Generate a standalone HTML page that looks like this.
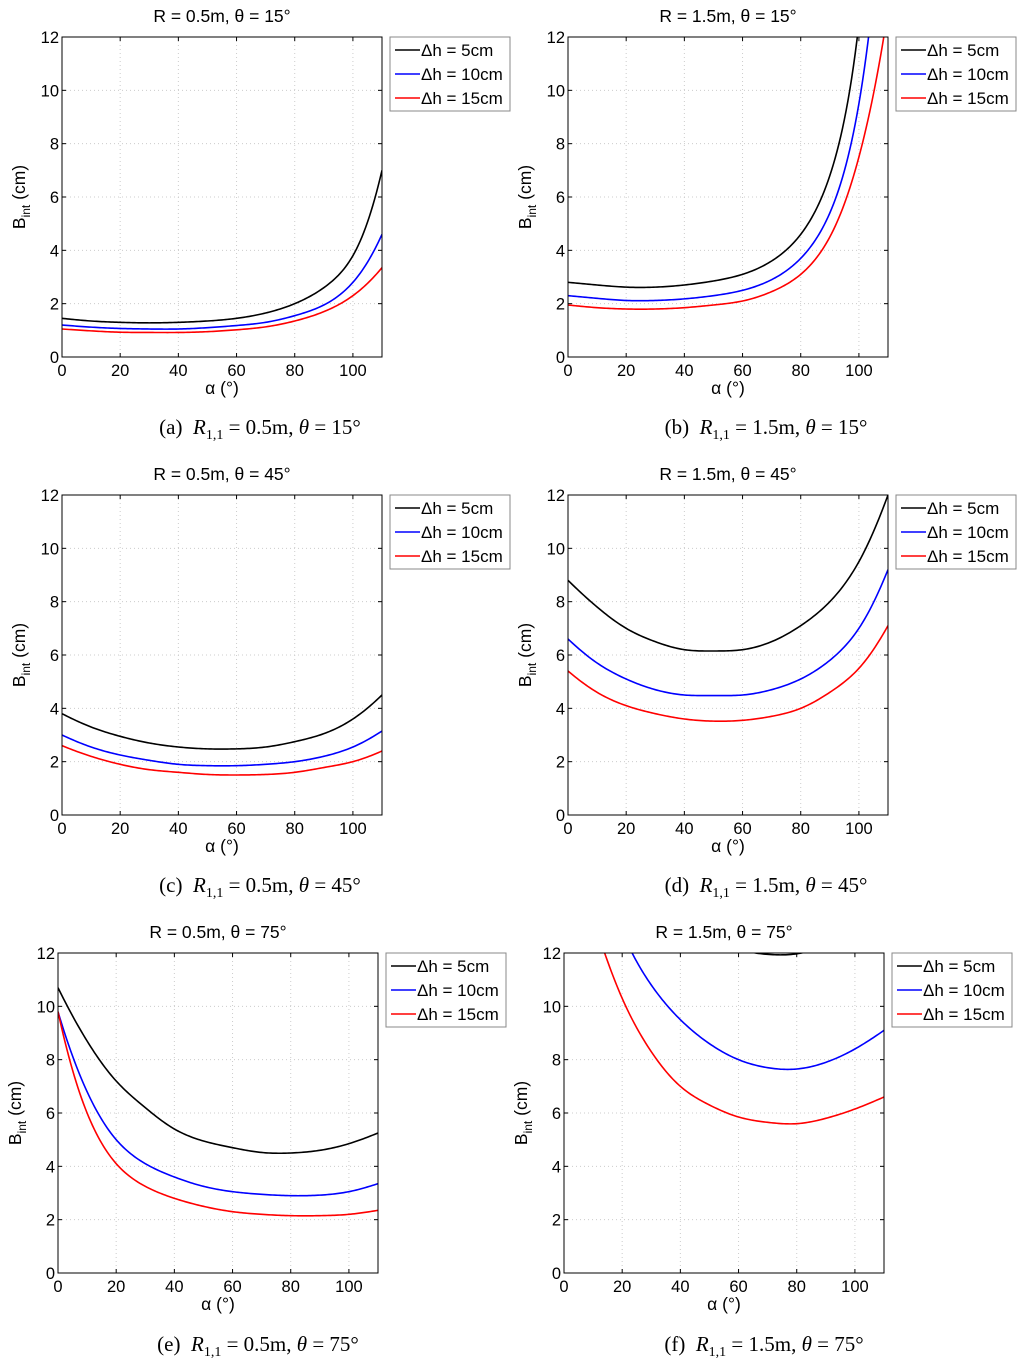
<!DOCTYPE html>
<html><head><meta charset="utf-8"><style>
body{margin:0;background:#fff;width:1024px;height:1367px;overflow:hidden;font-family:"Liberation Sans",sans-serif}
svg{position:absolute;left:0;top:0}
.cap{position:absolute;font-family:"Liberation Serif",serif;font-size:21px;white-space:nowrap;transform:translateX(-50%)}
.cap i{font-style:italic}
</style></head><body>
<svg id="chart" width="1024" height="1367"></svg>
<div class="cap" style="left:260px;top:415px">(a)&nbsp; <i>R</i><sub style="font-size:14px">1,1</sub> = 0.5m, <i>θ</i> = 15°</div>
<div class="cap" style="left:766px;top:415px">(b)&nbsp; <i>R</i><sub style="font-size:14px">1,1</sub> = 1.5m, <i>θ</i> = 15°</div>
<div class="cap" style="left:260px;top:873px">(c)&nbsp; <i>R</i><sub style="font-size:14px">1,1</sub> = 0.5m, <i>θ</i> = 45°</div>
<div class="cap" style="left:766px;top:873px">(d)&nbsp; <i>R</i><sub style="font-size:14px">1,1</sub> = 1.5m, <i>θ</i> = 45°</div>
<div class="cap" style="left:258px;top:1332px">(e)&nbsp; <i>R</i><sub style="font-size:14px">1,1</sub> = 0.5m, <i>θ</i> = 75°</div>
<div class="cap" style="left:764px;top:1332px">(f)&nbsp; <i>R</i><sub style="font-size:14px">1,1</sub> = 1.5m, <i>θ</i> = 75°</div>
<script>
const alphas=[0,10,20,30,40,50,60,70,80,90,100,110];
const xTicks=[0,20,40,60,80,100];
const yTicks=[0,2,4,6,8,10,12];
const seriesLabels=["Δh = 5cm","Δh = 10cm","Δh = 15cm"];
const seriesColors=["#000","#00f","#f00"];
const titles=["R = 0.5m, θ = 15°","R = 1.5m, θ = 15°","R = 0.5m, θ = 45°","R = 1.5m, θ = 45°","R = 0.5m, θ = 75°","R = 1.5m, θ = 75°"];
const aBlack=[1.45,1.35,1.3,1.28,1.3,1.35,1.45,1.65,2.0,2.6,3.8,7.0];
const aBlue=[1.2,1.12,1.07,1.05,1.05,1.1,1.18,1.3,1.55,1.95,2.8,4.6];
const aRed=[1.05,0.98,0.93,0.92,0.92,0.95,1.02,1.13,1.35,1.7,2.3,3.35];
const bBlack=[2.8,2.7,2.62,2.62,2.7,2.85,3.1,3.6,4.6,6.8,12.5,30];
const bBlue=[2.3,2.2,2.12,2.12,2.18,2.3,2.5,2.9,3.7,5.4,9.5,20];
const bRed=[1.95,1.85,1.8,1.8,1.85,1.95,2.1,2.45,3.1,4.5,7.5,13];
const cBlack=[3.8,3.3,2.95,2.7,2.55,2.48,2.48,2.55,2.75,3.05,3.6,4.5];
const cBlue=[3.0,2.55,2.25,2.05,1.9,1.85,1.85,1.9,2.0,2.2,2.55,3.15];
const cRed=[2.6,2.2,1.9,1.7,1.6,1.52,1.5,1.52,1.6,1.78,2.0,2.4];
const dBlack=[8.8,7.8,7.0,6.5,6.2,6.15,6.2,6.5,7.1,8.0,9.5,12];
const dBlue=[6.6,5.7,5.1,4.7,4.5,4.48,4.5,4.7,5.1,5.8,7.0,9.2];
const dRed=[5.4,4.6,4.1,3.8,3.6,3.52,3.55,3.7,4.0,4.6,5.5,7.1];
const eBlack=[10.7,8.7,7.2,6.2,5.4,4.95,4.7,4.52,4.5,4.6,4.85,5.25];
const eBlue=[9.8,6.8,5.0,4.1,3.6,3.25,3.05,2.95,2.9,2.92,3.05,3.35];
const eRed=[9.8,6.0,4.1,3.25,2.8,2.5,2.3,2.2,2.15,2.15,2.2,2.35];
const fBlack=[30,22,17.5,15,13.6,12.7,12.15,11.95,11.97,12.3,13,14];
const fBlue=[20,16,12.8,10.8,9.5,8.6,8.0,7.7,7.65,7.9,8.4,9.1];
const fRed=[17,13.3,10.3,8.3,7.0,6.3,5.85,5.65,5.6,5.8,6.15,6.6];
const panelData=[[aBlack,aBlue,aRed],[bBlack,bBlue,bRed],[cBlack,cBlue,cRed],[dBlack,dBlue,dRed],[eBlack,eBlue,eRed],[fBlack,fBlue,fRed]];
const layout=[[62,37],[568,37],[62,495],[568,495],[58,953],[564,953]];
const W=320,H=320,NS='http://www.w3.org/2000/svg';
const svg=document.getElementById('chart');
function mk(t,a,p){const e=document.createElementNS(NS,t);for(const k in a)e.setAttribute(k,a[k]);(p||svg).appendChild(e);return e;}
function curvePath(xa,va,xs,ys){
  const y=va.map(v=>Math.log(v));const n=y.length;
  // natural cubic spline, uniform spacing
  const M=new Array(n).fill(0);const a=[],b=[],c=[],r=[];
  for(let i=1;i<n-1;i++){a.push(1);b.push(4);c.push(1);r.push(6*(y[i+1]-2*y[i]+y[i-1]));}
  const m=r.length;
  for(let i=1;i<m;i++){const w=a[i]/b[i-1];b[i]-=w*c[i-1];r[i]-=w*r[i-1];}
  const sol=new Array(m);sol[m-1]=r[m-1]/b[m-1];
  for(let i=m-2;i>=0;i--)sol[i]=(r[i]-c[i]*sol[i+1])/b[i];
  for(let i=0;i<m;i++)M[i+1]=sol[i];
  let d='';
  for(let i=0;i<n-1;i++){
    for(let k=(i===0?0:1);k<=16;k++){const t=k/16;
      const v=(1-t)*y[i]+t*y[i+1]+((Math.pow(1-t,3)-(1-t))*M[i]+(t*t*t-t)*M[i+1])/6;
      const x=xa[i]+(xa[i+1]-xa[i])*t;
      d+=(d?' L':'M')+xs(x).toFixed(2)+','+ys(Math.exp(v)).toFixed(2);}
  }return d;}
panelData.forEach((ser,pi)=>{
  const [X0,Y0]=layout[pi];
  const xs=v=>X0+v/110*W, ys=v=>Y0+H-v/12*H;
  const g=mk('g',{});
  
  
  const cp=mk('clipPath',{id:'clip'+pi},g);mk('rect',{x:X0,y:Y0,width:W,height:H},cp);
  xTicks.forEach(t=>{if(t>0)mk('line',{x1:xs(t),x2:xs(t),y1:Y0,y2:Y0+H,stroke:'#ccc','stroke-dasharray':'1,3','stroke-width':1},g);
    mk('line',{x1:xs(t),x2:xs(t),y1:Y0+H,y2:Y0+H-4,stroke:'#000'},g);mk('line',{x1:xs(t),x2:xs(t),y1:Y0,y2:Y0+4,stroke:'#000'},g);
    const tx=mk('text',{x:xs(t),y:Y0+H+19,'text-anchor':'middle','font-size':16.5},g);tx.textContent=t;
    });
  yTicks.forEach(t=>{if(t>0&&t<12)mk('line',{x1:X0,x2:X0+W,y1:ys(t),y2:ys(t),stroke:'#ccc','stroke-dasharray':'1,3','stroke-width':1},g);
    mk('line',{x1:X0,x2:X0+4,y1:ys(t),y2:ys(t),stroke:'#000'},g);mk('line',{x1:X0+W,x2:X0+W-4,y1:ys(t),y2:ys(t),stroke:'#000'},g);
    const tx=mk('text',{x:X0-3,y:ys(t)+6,'text-anchor':'end','font-size':16.5},g);tx.textContent=t;
    });
  ser.forEach((vals,si)=>{const p=mk('path',{d:curvePath(alphas,vals,xs,ys),fill:'none',stroke:seriesColors[si],'stroke-width':1.6,'clip-path':'url(#clip'+pi+')'},g);
    });
  mk('rect',{x:X0,y:Y0,width:W,height:H,fill:'none',stroke:'#000','stroke-width':1},g);
  const tt=mk('text',{x:X0+W/2,y:Y0-15,'text-anchor':'middle','font-size':17.5},g);tt.textContent=titles[pi];
  
  const xl=mk('text',{x:X0+W/2,y:Y0+H+37,'text-anchor':'middle','font-size':17.5},g);xl.textContent='α (°)';
  
  const yl=mk('text',{transform:'translate('+(X0-37)+','+(Y0+H/2)+') rotate(-90)','text-anchor':'middle','font-size':17.5},g);
  yl.innerHTML='B<tspan font-size="12" dy="5">int</tspan><tspan dy="-5"> (cm)</tspan>';
  
  const lx=X0+W+8,ly=Y0;
  const lg=mk('g',{},g);
  mk('rect',{x:lx,y:ly,width:120,height:74,fill:'#fff',stroke:'#888'},lg);
  seriesLabels.forEach((s,si)=>{const yy=ly+13+si*24;mk('line',{x1:lx+5,x2:lx+30,y1:yy,y2:yy,stroke:seriesColors[si],'stroke-width':1.6},lg);
    const t=mk('text',{x:lx+31,y:yy+6,'font-size':17},lg);t.textContent=s;
    });
});
</script></body></html>
